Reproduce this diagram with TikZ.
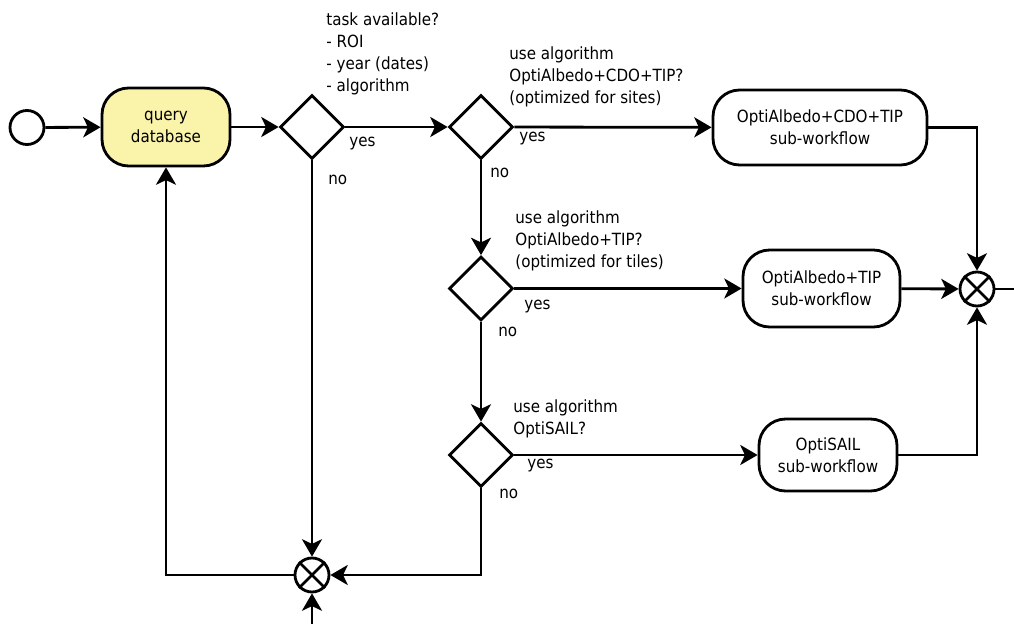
\documentclass[tikz,border=0pt]{standalone}
\usepackage{fontspec}
\setmainfont{DejaVu Sans Condensed}
\usepackage{tikz}
\usetikzlibrary{shapes.geometric,arrows.meta}

\definecolor{queryfill}{RGB}{250,243,170}

\begin{document}
\begin{tikzpicture}[x=0.75pt,y=-0.75pt,line width=2.1pt,
  font=\fontsize{12.6}{16.5}\selectfont,
  >={Stealth[length=13pt,width=15pt,inset=3.5pt]},
  taskbox/.style={draw,rectangle,rounded corners=20pt,inner sep=0pt,align=center},
  decision/.style={draw,diamond,minimum width=48pt,minimum height=48pt,inner sep=0pt},
  merge/.style={draw,circle,minimum size=25.5pt,inner sep=0pt},
  note/.style={inner sep=0pt,anchor=north west,align=left},
  answer/.style={inner sep=0pt,anchor=west}]
\useasboundingbox (0,0) rectangle (1014,624);

% Start and query
\node[draw,circle,minimum size=25.5pt,inner sep=0pt] (start) at (27,127.5) {};
\node[taskbox,fill=queryfill,minimum width=96pt,minimum height=58.5pt] (query) at (166,127) {query\\database};

% Decisions
\node[decision] (d1) at (312,127) {};
\node[decision] (d2) at (481,127) {};
\node[decision] (d3) at (481,288.5) {};
\node[decision] (d4) at (481,455) {};

% Sub-workflows
\node[taskbox,minimum width=160.5pt,minimum height=56.25pt] (optiCDO) at (820,127.5) {OptiAlbedo+CDO+TIP\\sub-workflow};
\node[taskbox,minimum width=117.75pt,minimum height=57.75pt] (optiTIP) at (821.5,288.5) {OptiAlbedo+TIP\\sub-workflow};
\node[taskbox,minimum width=103.5pt,minimum height=54pt] (optiSAIL) at (828,455) {OptiSAIL\\sub-workflow};

% Merge points
\node[merge] (mergeR) at (977,289) {};
\node[merge] (mergeB) at (312,575) {};
\foreach \m in {mergeR,mergeB}
  \draw (\m.north west) -- (\m.south east) (\m.north east) -- (\m.south west);
\coordinate (outR) at (1014,289);
\coordinate (inB) at (312,624);

% Questions
\node[note] (q1) at (325,11) {task available?\\- ROI\\- year (dates)\\- algorithm};
\node[note] (q2) at (508,45) {use algorithm\\OptiAlbedo+CDO+TIP?\\(optimized for sites)};
\node[note] (q3) at (514,209) {use algorithm\\OptiAlbedo+TIP?\\(optimized for tiles)};
\node[note] (q4) at (512,398) {use algorithm\\OptiSAIL?};

% Answers
\node[answer] (yes1) at (348,144) {yes};
\node[answer] (no1) at (327,180) {no};
\node[answer] (yes2) at (518,139) {yes};
\node[answer] (no2) at (489,173) {no};
\node[answer] (yes3) at (523,307) {yes};
\node[answer] (no3) at (497,332) {no};
\node[answer] (yes4) at (526,466) {yes};
\node[answer] (no4) at (498,494) {no};

% Flow
\draw[->] (start) -- (query);
\draw[->] (query) -- (d1);
\draw[->] (d1) -- (d2);
\draw[->] (d2) -- (optiCDO);
\draw[->] (d2) -- (d3);
\draw[->] (d3) -- (optiTIP);
\draw[->] (d3) -- (d4);
\draw[->] (d4) -- (optiSAIL);
\draw[->] (optiCDO) -| (mergeR);
\draw[->] (optiTIP) -- (mergeR);
\draw[->] (optiSAIL) -| (mergeR);
\draw (mergeR) -- (outR);
\draw[->] (d1) -- (mergeB);
\draw[->] (d4) |- (mergeB);
\draw[->] (mergeB) -| (query);
\draw[->] (inB) -- (mergeB);
\end{tikzpicture}
\end{document}
